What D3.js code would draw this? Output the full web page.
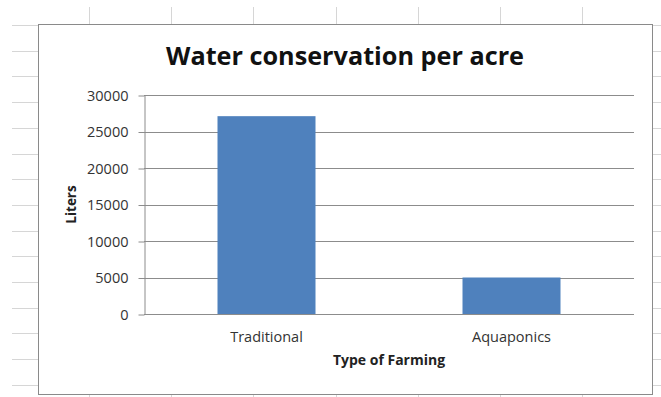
<!DOCTYPE html>
<html>
<head>
<meta charset="utf-8">
<script src="https://cdn.jsdelivr.net/npm/d3@7"></script>
<style>
body { margin: 0; background: #fff; }
text { font-family: 'Open Sans', sans-serif; fill: #333; }
#title { font-weight: bold; fill: #111; }
.label { font-weight: bold; fill: #222; }
</style>
</head>
<body>
<svg id="chart" width="661" height="397"></svg>
<script>
const categories = ['Traditional', 'Aquaponics'];
const liters = [27100, 5000];
const yTicks = [0, 5000, 10000, 15000, 20000, 25000, 30000];

const W = 661, H = 397;
const box = {left: 38, top: 24, right: 652, bottom: 394};
const plot = {left: 144, top: 95, right: 634, bottom: 314};

const svg = d3.select('#chart');

// spreadsheet grid behind the chart object
const sheet = svg.append('g').attr('stroke', '#d6d6d6').attr('stroke-width', 1);
sheet.selectAll('.col')
  .data(d3.range(89, W, 82.2))
  .enter().append('line')
  .attr('x1', d => Math.round(d) + 0.5).attr('x2', d => Math.round(d) + 0.5)
  .attr('y1', 7).attr('y2', H);
sheet.selectAll('.row')
  .data(d3.range(25, H, 25.7))
  .enter().append('line')
  .attr('x1', 12).attr('x2', W)
  .attr('y1', d => Math.round(d) + 0.5).attr('y2', d => Math.round(d) + 0.5);

// chart area
svg.append('rect')
  .attr('x', box.left + 0.5).attr('y', box.top + 0.5)
  .attr('width', box.right - box.left).attr('height', box.bottom - box.top)
  .attr('fill', '#fff').attr('stroke', '#8a8a8a');

const x = d3.scaleBand()
  .domain(categories)
  .range([plot.left, plot.right])
  .paddingInner(0.6)
  .paddingOuter(0.3);

const y = d3.scaleLinear()
  .domain([0, 30000])
  .range([plot.bottom, plot.top]);

// gridlines
svg.append('g')
  .selectAll('line')
  .data(yTicks)
  .enter().append('line')
  .attr('x1', plot.left).attr('x2', plot.right)
  .attr('y1', d => Math.round(y(d)) + 0.5).attr('y2', d => Math.round(y(d)) + 0.5)
  .attr('stroke', '#8c8c8c');

// bars
svg.append('g')
  .selectAll('rect')
  .data(liters)
  .enter().append('rect')
  .attr('x', (d, i) => x(categories[i]))
  .attr('y', d => y(d))
  .attr('width', x.bandwidth())
  .attr('height', d => y(0) - y(d))
  .attr('fill', '#4f81bd');

// y axis
const yAxis = svg.append('g')
  .attr('transform', `translate(${plot.left + 0.5},0.5)`)
  .call(d3.axisLeft(y).tickValues(yTicks).tickFormat(d3.format('d'))
    .tickSize(6).tickSizeOuter(0).tickPadding(10));
yAxis.select('.domain').attr('stroke', '#8c8c8c');
yAxis.selectAll('.tick line').attr('stroke', '#8c8c8c');
yAxis.selectAll('.tick text')
  .style('font-family', "'Open Sans', sans-serif")
  .style('font-size', '14.5px')
  .attr('fill', '#333');

// x axis line
svg.append('line')
  .attr('x1', plot.left).attr('x2', plot.right)
  .attr('y1', plot.bottom + 0.5).attr('y2', plot.bottom + 0.5)
  .attr('stroke', '#8c8c8c');

// category labels
svg.append('g')
  .selectAll('text')
  .data(categories)
  .enter().append('text')
  .attr('x', d => x(d) + x.bandwidth() / 2)
  .attr('y', y(0) + 28)
  .attr('text-anchor', 'middle')
  .style('font-size', '14.5px')
  .text(d => d);

// title
svg.append('text')
  .attr('id', 'title')
  .attr('x', (box.left + box.right) / 2)
  .attr('y', 65)
  .attr('text-anchor', 'middle')
  .attr('textLength', 358)
  .attr('lengthAdjust', 'spacingAndGlyphs')
  .style('font-size', '25px')
  .text('Water conservation per acre');

// axis titles
svg.append('text')
  .attr('class', 'label')
  .attr('x', (plot.left + plot.right) / 2)
  .attr('y', 365)
  .attr('text-anchor', 'middle')
  .style('font-size', '14px')
  .text('Type of Farming');

svg.append('text')
  .attr('class', 'label')
  .attr('transform', `translate(76,${(plot.top + plot.bottom) / 2}) rotate(-90)`)
  .attr('text-anchor', 'middle')
  .style('font-size', '13.5px')
  .text('Liters');
</script>
</body>
</html>
